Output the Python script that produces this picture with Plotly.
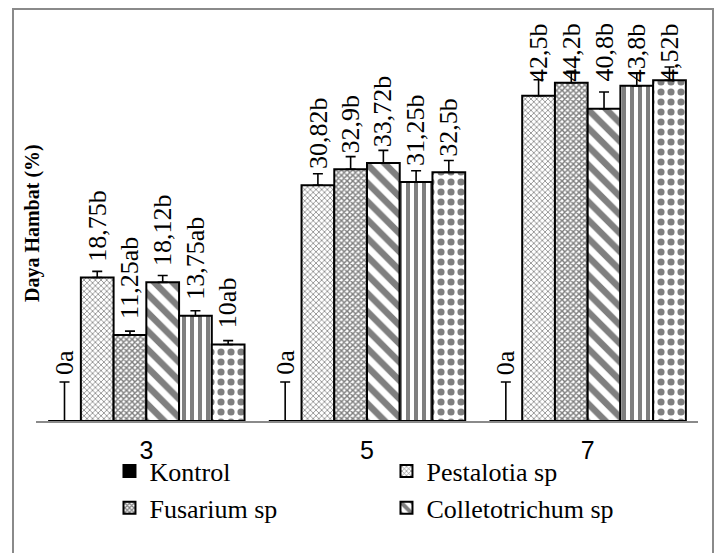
import plotly.graph_objects as go

# ---------------- data ----------------
days = ["3", "5", "7"]

kontrol = [0, 0, 0]
pestalotia = [18.75, 30.82, 42.5]
fusarium = [11.25, 32.9, 44.2]
colletotrichum = [18.12, 33.72, 40.8]
perlakuan5 = [13.75, 31.25, 43.8]
perlakuan6 = [10.0, 32.5, 44.52]

err_kontrol = [5.1, 5.1, 5.1]
err_pestalotia = [0.8, 1.5, 2.1]
err_fusarium = [0.5, 1.65, 1.5]
err_colletotrichum = [0.9, 1.65, 2.2]
err_perlakuan5 = [0.65, 1.45, 1.7]
err_perlakuan6 = [0.5, 1.55, 1.75]

lab_kontrol = ["0a", "0a", "0a"]
lab_pestalotia = ["18,75b", "30,82b", "42,5b"]
lab_fusarium = ["11,25ab", "32,9b", "44,2b"]
lab_colletotrichum = ["18,12b", "33,72b", "40,8b"]
lab_perlakuan5 = ["13,75ab", "31,25b", "43,8b"]
lab_perlakuan6 = ["10ab", "32,5b", "4,52b"]

# ---------------- styling ----------------
SERIF = "Liberation Serif, Times New Roman, serif"
BARGAP = 0.11
LABEL_SIZE = 26
series = [
    ("Kontrol", kontrol, err_kontrol, lab_kontrol, dict(shape=""), "black", True),
    ("Pestalotia sp", pestalotia, err_pestalotia, lab_pestalotia, dict(shape="x", size=4, solidity=0.35), "white", True),
    ("Fusarium sp", fusarium, err_fusarium, lab_fusarium, dict(shape="x", size=4, solidity=0.6), "white", True),
    ("Colletotrichum sp", colletotrichum, err_colletotrichum, lab_colletotrichum, dict(shape="\\", size=13, solidity=0.5), "white", True),
    ("Perlakuan 5", perlakuan5, err_perlakuan5, lab_perlakuan5, dict(shape="|", size=8, solidity=0.5), "white", False),
    ("Perlakuan 6", perlakuan6, err_perlakuan6, lab_perlakuan6, dict(shape=".", size=10, solidity=0.4), "white", False),
]

fig = go.Figure()
n = len(series)
annotations = []
for k, (name, vals, errs, labs, pat, col, show) in enumerate(series):
    p = dict(fgcolor="black", bgcolor="white", fillmode="overlay")
    p.update(pat)
    fig.add_trace(go.Bar(
        name=name, x=days, y=vals, showlegend=show,
        marker=dict(color=col, line=dict(color="black", width=2), pattern=p),
        error_y=dict(type="data", array=errs, arrayminus=[0] * len(errs), symmetric=False,
                     color="black", thickness=1.6, width=5),
    ))
    w = (1 - BARGAP) / n
    for i, (v, e, t) in enumerate(zip(vals, errs, labs)):
        xpos = i - (1 - BARGAP) / 2 + w * (k + 0.5)
        font = dict(family=SERIF, size=LABEL_SIZE, color="black")
        if v > 40:
            annotations.append(dict(x=xpos, xref="x", y=1, yref="paper", text=t, textangle=-90,
                                    showarrow=False, yanchor="top", xanchor="center", yshift=-4,
                                    font=font))
        elif v > 0:
            annotations.append(dict(x=xpos, xref="x", y=v, yref="y", text=t, textangle=-90,
                                    showarrow=False, yanchor="bottom", xanchor="center", yshift=14,
                                    font=font))
        else:
            annotations.append(dict(x=xpos, xref="x", y=v + e, yref="y", text=t, textangle=-90,
                                    showarrow=False, yanchor="bottom", xanchor="center", yshift=5,
                                    font=font))

annotations.append(dict(x=-0.006, xref="paper", y=0.49, yref="paper", text="<b>Daya Hambat (%)</b>",
                        textangle=-90, showarrow=False, xanchor="center", yanchor="middle",
                        font=dict(family=SERIF, size=20, color="black")))

fig.update_layout(
    width=720, height=553,
    margin=dict(l=36, r=22, t=17, b=132),
    paper_bgcolor="white", plot_bgcolor="white",
    barmode="group", bargap=BARGAP, bargroupgap=0,
    annotations=annotations,
    xaxis=dict(type="category", showline=True, linecolor="#8a8a8a", linewidth=2, showgrid=False,
               ticks="", ticklabelstandoff=6, zeroline=False,
               tickfont=dict(family="Liberation Sans", size=25, color="black")),
    yaxis=dict(range=[0, 52.8], visible=False, showgrid=False, zeroline=False),
    legend=dict(orientation="h", x=0.111, xanchor="left", y=-0.066, yanchor="top",
                entrywidth=232, entrywidthmode="pixels", itemwidth=30,
                font=dict(family=SERIF, size=26, color="black"), bgcolor="rgba(0,0,0,0)",
                traceorder="normal", tracegroupgap=0),
    shapes=[dict(type="rect", xref="paper", yref="paper",
                 x0=(13 - 36) / 662, x1=(713 - 36) / 662,
                 y0=(421 - 600) / 404, y1=(421 - 9) / 404,
                 line=dict(color="#8a8a8a", width=2), fillcolor="rgba(0,0,0,0)", layer="below")],
)

fig.write_html("out.html", config={"displayModeBar": False},
               post_script="document.body.style.margin='0';")
